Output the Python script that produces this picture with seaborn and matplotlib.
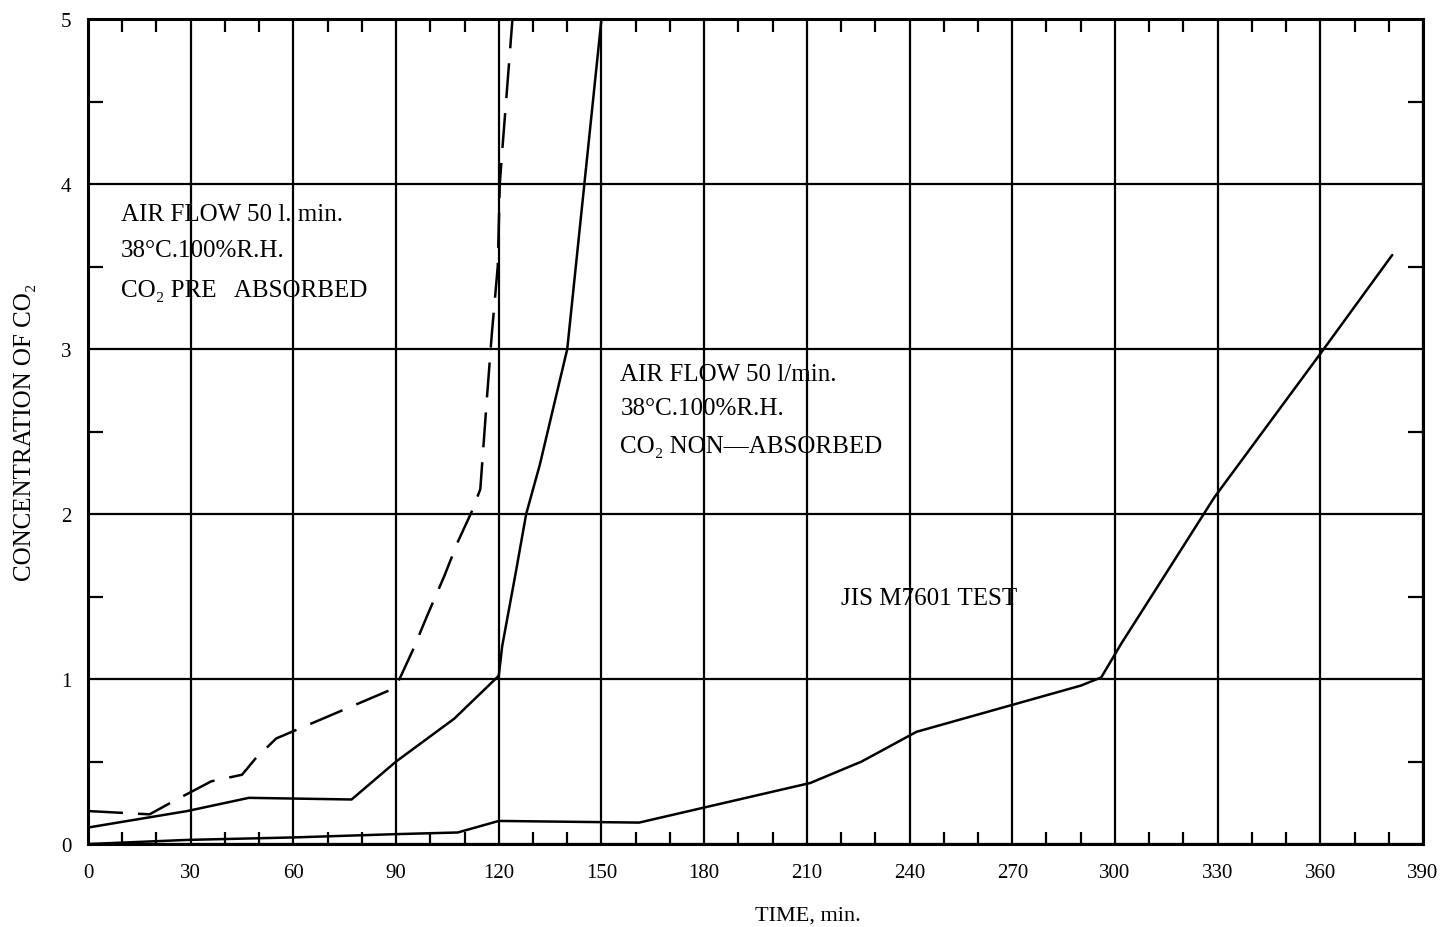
import numpy as np
import pandas as pd
import matplotlib
matplotlib.use("Agg")
import matplotlib.pyplot as plt
import seaborn as sns
from matplotlib.ticker import MultipleLocator

# ---- data ----
pre_x = [0, 18, 25, 36, 45, 49, 55, 89, 91, 95, 99, 104, 108, 112, 114.6, 116.6, 118, 119.7, 120.3, 121, 124]
pre_y = [0.20, 0.18, 0.26, 0.38, 0.42, 0.52, 0.64, 0.94, 1.0, 1.18, 1.38, 1.62, 1.83, 2.01, 2.15, 2.72, 3.1, 3.5, 4.0, 4.2, 5.0]

non_x = [0, 29, 47, 77, 90, 107, 120, 121, 125, 128, 132, 136, 140, 145, 150]
non_y = [0.10, 0.20, 0.28, 0.27, 0.50, 0.76, 1.02, 1.2, 1.65, 2.0, 2.3, 2.65, 3.0, 4.0, 5.0]

jis_x = [0, 29, 60, 90, 108, 120, 161, 211, 226, 242, 290, 296, 302, 310, 329, 361, 381]
jis_y = [0.0, 0.025, 0.04, 0.06, 0.07, 0.14, 0.13, 0.37, 0.50, 0.68, 0.96, 1.01, 1.22, 1.48, 2.1, 3.0, 3.57]

x_ticks = [0, 30, 60, 90, 120, 150, 180, 210, 240, 270, 300, 330, 360, 390]
y_ticks = [0, 1, 2, 3, 4, 5]

sns.set_style("white")
plt.rcParams['font.family'] = ['Liberation Serif', 'DejaVu Serif']
plt.rcParams['text.color'] = 'black'
plt.rcParams['axes.labelcolor'] = 'black'
plt.rcParams['xtick.color'] = 'black'
plt.rcParams['ytick.color'] = 'black'

fig = plt.figure(figsize=(14.45, 9.28), dpi=100)
ax = fig.add_axes([0.0609, 0.0894, 0.9239, 0.889])

df_pre = pd.DataFrame({"t": pre_x, "c": pre_y})
df_non = pd.DataFrame({"t": non_x, "c": non_y})
df_jis = pd.DataFrame({"t": jis_x, "c": jis_y})

sns.lineplot(data=df_pre, x="t", y="c", ax=ax, color="black", lw=1.8,
             sort=False, estimator=None, linestyle=(0, (14, 6)))
sns.lineplot(data=df_non, x="t", y="c", ax=ax, color="black", lw=1.8,
             sort=False, estimator=None)
sns.lineplot(data=df_jis, x="t", y="c", ax=ax, color="black", lw=1.8,
             sort=False, estimator=None)

ax.set_xlim(0, 390)
ax.set_ylim(0, 5)
ax.set_xticks(x_ticks)
ax.set_xticklabels([str(v) for v in x_ticks])
ax.set_yticks(y_ticks)
ax.set_yticklabels([str(v) for v in y_ticks])
ax.xaxis.set_minor_locator(MultipleLocator(10))
ax.yaxis.set_minor_locator(MultipleLocator(0.5))

ax.grid(True, which="major", color="black", lw=1.6)
ax.tick_params(which="major", length=0, labelsize=15, pad=12)
ax.tick_params(axis="x", which="major", pad=14)
ax.tick_params(axis="x", which="minor", direction="in", length=9, width=1.6,
               color="black", top=True, bottom=True)
ax.tick_params(axis="y", which="minor", direction="in", length=11, width=1.6,
               color="black", left=True, right=True)
for s in ax.spines.values():
    s.set_color("black")
    s.set_linewidth(2.2)

ax.set_xlabel("TIME, min.", fontsize=16)
ax.xaxis.set_label_coords(0.539, -0.075)
ax.set_ylabel("CONCENTRATION OF CO₂", fontsize=18, labelpad=18)

fs = 18
ax.text(9.5, 3.82, "AIR FLOW 50 l. min.", fontsize=fs, va="center")
ax.text(9.5, 3.60, "38°C.100%R.H.", fontsize=fs, va="center")
ax.text(9.5, 3.36, "CO₂ PRE   ABSORBED", fontsize=fs, va="center")

ax.text(155.5, 2.85, "AIR FLOW 50 l/min.", fontsize=fs, va="center")
ax.text(155.5, 2.64, "38°C.100%R.H.", fontsize=fs, va="center")
ax.text(155.5, 2.41, "CO₂ NON—ABSORBED", fontsize=fs, va="center")

ax.text(220, 1.49, "JIS M7601 TEST", fontsize=fs, va="center")

fig.savefig("out.png", dpi=100)
